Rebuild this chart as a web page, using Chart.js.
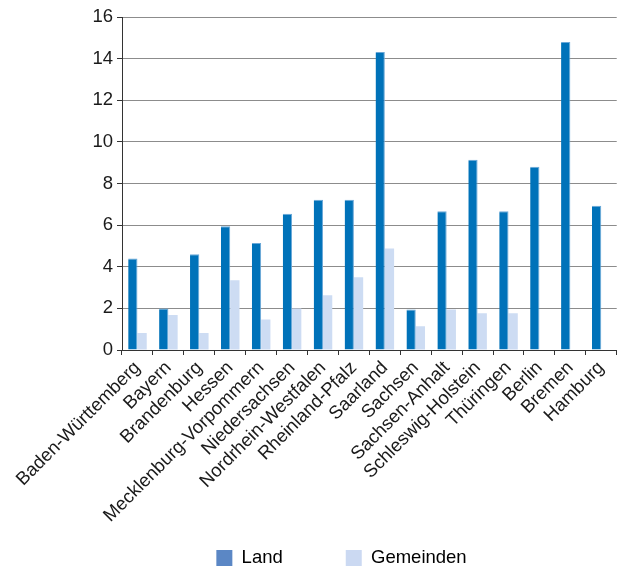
<!DOCTYPE html>
<html>
<head>
<meta charset="utf-8">
<script src="https://cdn.jsdelivr.net/npm/chart.js@4/dist/chart.umd.min.js"></script>
<style>
html,body{margin:0;padding:0;background:#fff;}
canvas{display:block;}
</style>
</head>
<body>
<canvas id="c" width="619" height="568"></canvas>
<script>
const categories = ["Baden-Württemberg","Bayern","Brandenburg","Hessen","Mecklenburg-Vorpommern","Niedersachsen","Nordrhein-Westfalen","Rheinland-Pfalz","Saarland","Sachsen","Sachsen-Anhalt","Schleswig-Holstein","Thüringen","Berlin","Bremen","Hamburg"];
const land = [4.4, 2.0, 4.6, 5.95, 5.14, 6.55, 7.22, 7.22, 14.32, 1.94, 6.67, 9.14, 6.67, 8.8, 14.8, 6.93];
const gemeinden = [0.82, 1.68, 0.82, 3.35, 1.47, 2.0, 2.63, 3.49, 4.88, 1.14, 1.94, 1.76, 1.76, null, null, null];
const seriesNames = ["Land", "Gemeinden"];
const yTicks = {min: 0, max: 16, step: 2};

const FONT = "'Liberation Sans', Arial, Helvetica, sans-serif";
const FS = 18.5;
const legendColors = ['#5b87c5', '#cbd9f2'];

// let the rotated category labels run below the axis box (over the legend's empty top space)
const unclipLabels = {
  id: 'unclipLabels',
  afterLayout(chart) { chart.scales.x.bottom = chart.height; }
};

new Chart(document.getElementById('c'), {
  type: 'bar',
  data: {
    labels: categories,
    datasets: [
      {label: seriesNames[0], data: land, backgroundColor: '#0072b9', borderColor: '#6aa8d8',
       borderWidth: {top: 1, right: 1, left: 0, bottom: 0}, borderSkipped: 'bottom'},
      {label: seriesNames[1], data: gemeinden, backgroundColor: '#cddcf3', borderWidth: 0}
    ]
  },
  plugins: [unclipLabels],
  options: {
    responsive: false,
    animation: false,
    events: [],
    layout: {padding: {top: 17, left: 65, right: 1, bottom: -9.25}},
    datasets: {bar: {categoryPercentage: 0.6, barPercentage: 1}},
    scales: {
      x: {
        offset: true,
        grid: {offset: true, drawOnChartArea: false, drawTicks: true, tickLength: 5, tickColor: '#333', color: '#333'},
        border: {display: true, color: '#333', width: 1},
        ticks: {autoSkip: false, minRotation: 45, maxRotation: 45, padding: 2, color: '#1a1a1a',
                font: {family: FONT, size: FS}},
        afterFit: s => { s.height = 135.75; }
      },
      y: {
        min: yTicks.min, max: yTicks.max,
        grid: {color: '#8c8c8c', lineWidth: 1, tickLength: 5, tickColor: '#333', drawTicks: true},
        border: {display: true, color: '#333', width: 1},
        ticks: {stepSize: yTicks.step, padding: 4, color: '#1a1a1a', font: {family: FONT, size: FS}},
        afterFit: s => { s.width = 57; }
      }
    },
    plugins: {
      tooltip: {enabled: false},
      legend: {
        position: 'bottom',
        labels: {
          boxWidth: 16, boxHeight: 16, padding: 63,
          color: '#1a1a1a',
          font: {family: FONT, size: FS, lineHeight: 1},
          generateLabels: chart => chart.data.datasets.map((d, i) => ({
            text: d.label, fillStyle: legendColors[i], strokeStyle: legendColors[i], lineWidth: 0,
            hidden: false, datasetIndex: i
          }))
        }
      }
    }
  }
});
</script>
</body>
</html>
